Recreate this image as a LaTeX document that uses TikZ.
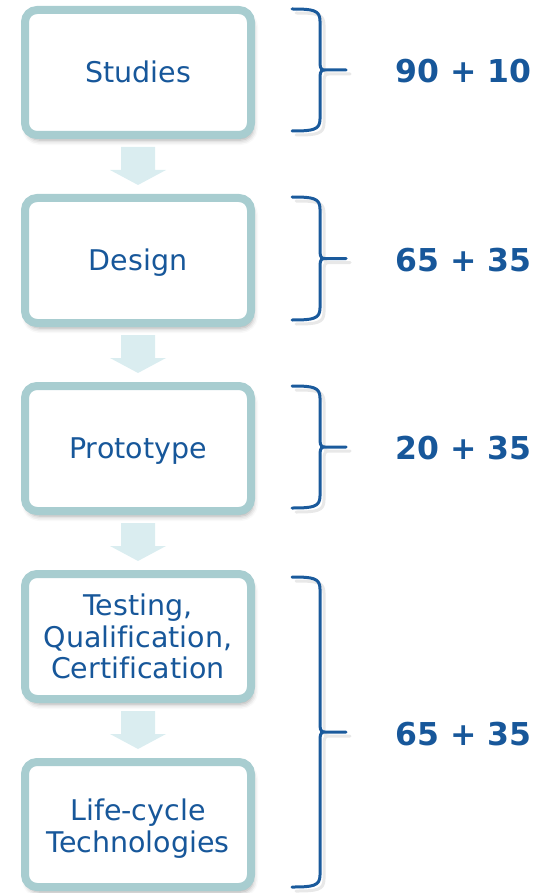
\documentclass[tikz,border=0pt]{standalone}
\usepackage{fontspec}
\setmainfont[Ligatures={NoCommon}]{DejaVu Sans}
\usetikzlibrary{shadows.blur,calc}
\definecolor{boxline}{HTML}{A8CDD0}
\definecolor{arrowfill}{HTML}{DAEDF0}
\definecolor{txtblue}{HTML}{17579A}
\definecolor{braceblue}{HTML}{1A5A9C}
\newcommand\flowarrow[2]{%
  \fill[arrowfill] ($(#1.south)+(-17,8)$) -- ($(#1.south)+(17,8)$) -- ($(#1.south)+(17,31)$) -- ($(#1.south)+(28,31)$) -- ($(#2.north)+(0,-9)$) -- ($(#1.south)+(-28,31)$) -- ($(#1.south)+(-17,31)$) -- cycle;}
\newcommand\mybrace[2]{%
  \pgfmathsetmacro\bm{(#1+#2)/2}%
  \foreach \sx/\sy/\st in {4/4/bracesh, 0/0/bracestyle}{%
  \draw[\st, shift={(\sx,\sy)}] (292,#1) .. controls (313,#1) and (320,#1+1) .. (320,#1+12) -- (320,\bm-7) .. controls (320,\bm-1) and (322,\bm) .. (325,\bm) -- (346,\bm)
    (325,\bm) .. controls (322,\bm) and (320,\bm+1) .. (320,\bm+7) -- (320,#2-12) .. controls (320,#2-1) and (313,#2) .. (292,#2);}}
\begin{document}
\begin{tikzpicture}[x=1pt,y=-1pt,
  stepbox/.style={draw=boxline, line width=8pt, fill=white, rounded corners=12pt,
    minimum width=226pt, minimum height=125pt, inner sep=0pt, text=txtblue,
    font=\fontsize{28.5}{31.5}\selectfont, align=center,
    blur shadow={shadow xshift=2pt, shadow yshift=-5pt, shadow blur radius=5pt, shadow opacity=35}},
  numtext/.style={text=txtblue, font=\bfseries\fontsize{31.5}{36}\selectfont, anchor=base, inner sep=0pt},
  bracestyle/.style={draw=braceblue, line width=3pt, line cap=round},
  bracesh/.style={draw=black!30, line width=3pt, line cap=round, opacity=0.3}]
\useasboundingbox (0,0) rectangle (551,893);
\node[stepbox] (studies) at (138,72.5) {\rule[-0.3em]{0pt}{1.28em}Studies};
\node[stepbox] (design) at (138,260.5) {\rule[-0.3em]{0pt}{1.28em}Design};
\node[stepbox] (proto) at (138,448.5) {\rule[-0.3em]{0pt}{1.28em}Prototype};
\node[stepbox] (testing) at (138,636.5) {Testing,\\Qualification,\\Certification};
\node[stepbox] (life) at (138,824.5) {\rule{0pt}{1.05em}Life-cycle\\Technologies};
\flowarrow{studies}{design}
\flowarrow{design}{proto}
\flowarrow{proto}{testing}
\flowarrow{testing}{life}
\mybrace{9}{131}
\mybrace{197}{320}
\mybrace{386}{508}
\mybrace{577}{887}
\node[numtext] (n1) at (463.5,83) {90 + 10};
\node[numtext] (n2) at (463.5,271) {65 + 35};
\node[numtext] (n3) at (463.5,459) {20 + 35};
\node[numtext] (n4) at (463.5,745) {65 + 35};
\end{tikzpicture}
\end{document}
